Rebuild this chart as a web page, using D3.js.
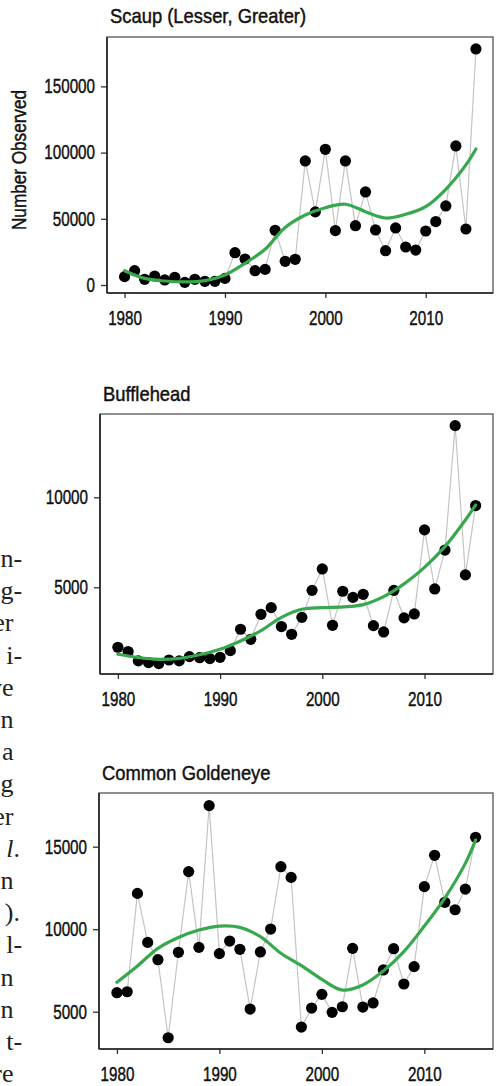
<!DOCTYPE html>
<html>
<head>
<meta charset="utf-8">
<script src="https://cdn.jsdelivr.net/npm/d3@7"></script>
<style>
  body { margin: 0; background: #fff; }
  svg { display: block; }
</style>
</head>
<body>
<div id="chart"></div>
<script>
// years shared by all three panels
const years = d3.range(1980, 2016);
const xTicks = [1980, 1990, 2000, 2010];

// Scaup (Lesser, Greater)
const scaupCounts = [6300, 10800, 4300, 6800, 3800, 5800, 2000, 4300, 2800, 2800,
  5000, 24400, 19600, 10800, 11800, 41300, 17900, 19400, 93700, 55200,
  102500, 41100, 93700, 44800, 70300, 41600, 25900, 43100, 28700, 26400,
  40800, 47900, 59700, 105000, 42300, 178300];
const scaupTrendYears = [1980, 1982, 1984, 1986, 1988, 1990, 1992, 1994, 1996, 1998, 2000, 2002, 2004, 2006, 2008, 2010, 2012, 2014, 2015];
const scaupTrend = [10800, 5000, 3000, 2300, 3300, 7600, 16400, 27000, 43500, 52900, 58400, 61000, 55400, 50600, 53400, 59200, 72300, 90700, 102700];
const scaupTicks = [0, 50000, 100000, 150000];

// Bufflehead
const buffleCounts = [1670, 1430, 910, 820, 760, 960, 910, 1150, 1090, 1040,
  1110, 1480, 2670, 2110, 3500, 3870, 2820, 2390, 3330, 4830,
  6020, 2890, 4780, 4440, 4610, 2870, 2520, 4830, 3300, 3520,
  8190, 4910, 7070, 13980, 5690, 9540];
const buffleTrendYears = scaupTrendYears;
const buffleTrend = [1280, 1100, 1000, 1050, 1250, 1560, 2020, 2590, 3330, 3780, 3870, 3910, 4040, 4480, 5190, 6110, 7260, 8740, 9570];
const buffleTicks = [5000, 10000];

// Common Goldeneye
const goldCounts = [6150, 6210, 12170, 9200, 8150, 3420, 8600, 13490, 8900, 17490,
  8520, 9280, 8780, 5160, 8620, 10010, 13790, 13140, 4070, 5220,
  6050, 4960, 5300, 8840, 5280, 5530, 7530, 8820, 6680, 7730,
  12580, 14480, 11630, 11180, 12430, 15570];
const goldTrendYears = scaupTrendYears;
const goldTrend = [6780, 7770, 8840, 9500, 9950, 10190, 10110, 9550, 8540, 7790, 6960, 6310, 6620, 7470, 8640, 10190, 11890, 13990, 15400];
const goldTicks = [5000, 10000, 15000];

// clipped lines of body text from the neighbouring column
const sideText = ["n-", "g-", "er", "i-", "ve", "n", "a", "g", "er", "l.", "n", ").", "l-", "n", "n", "t-", "re"];

const W = 497, H = 1086;
const sans = "'Liberation Sans', Arial, sans-serif";

const svg = d3.select("#chart").append("svg")
  .attr("width", W)
  .attr("height", H);

// squeeze text horizontally, the original uses a condensed face
function squeeze(sel, k) {
  sel.each(function () {
    const len = this.getComputedTextLength();
    d3.select(this).attr("textLength", len * k).attr("lengthAdjust", "spacingAndGlyphs");
  });
}

// thicken a bit, the source face is heavier than Liberation Sans
function heavy(sel) {
  sel.attr("stroke", "#111").attr("stroke-width", 0.45);
}

function drawPanel(opt) {
  const x = d3.scaleLinear().domain([1978.25, 2016.7]).range([opt.left, 493]);
  const y = d3.scaleLinear().domain(opt.domain).range([opt.bottom, opt.top]);
  const g = svg.append("g");

  g.append("text")
    .attr("x", opt.left + 3)
    .attr("y", opt.titleY)
    .attr("font-family", sans)
    .attr("font-size", 21)
    .attr("fill", "#111")
    .text(opt.title)
    .call(squeeze, 0.875)
    .call(heavy);

  g.append("rect")
    .attr("x", opt.left)
    .attr("y", opt.top)
    .attr("width", 493 - opt.left)
    .attr("height", opt.bottom - opt.top)
    .attr("fill", "#fff")
    .attr("stroke", "#555")
    .attr("stroke-width", 1.3);

  const yAxis = g.append("g")
    .attr("transform", `translate(${opt.left},0)`)
    .call(d3.axisLeft(y).tickValues(opt.ticks).tickSize(6).tickSizeOuter(0).tickPadding(6).tickFormat(d3.format("d")));
  const xAxis = g.append("g")
    .attr("transform", `translate(0,${opt.bottom})`)
    .call(d3.axisBottom(x).tickValues(xTicks).tickSize(5).tickSizeOuter(0).tickPadding(13).tickFormat(d3.format("d")));

  [yAxis, xAxis].forEach((a) => {
    a.select(".domain").remove();
    a.selectAll(".tick line").attr("stroke", "#333").attr("stroke-width", 1.3);
    a.selectAll(".tick text")
      .attr("font-family", sans)
      .attr("font-size", 20)
      .attr("fill", "#111")
      .call(squeeze, 0.76)
      .call(heavy);
  });

  // axis lines drawn darker on the left and bottom
  g.append("line")
    .attr("x1", opt.left).attr("x2", opt.left)
    .attr("y1", opt.top).attr("y2", opt.bottom)
    .attr("stroke", "#222").attr("stroke-width", 1.6);
  g.append("line")
    .attr("x1", opt.left).attr("x2", 493)
    .attr("y1", opt.bottom).attr("y2", opt.bottom)
    .attr("stroke", "#222").attr("stroke-width", 1.6);

  const data = years.map((yr, i) => ({ year: yr, value: opt.counts[i] }));
  const trend = opt.trendYears.map((yr, i) => ({ year: yr, value: opt.trend[i] }));

  g.append("path")
    .datum(data)
    .attr("fill", "none")
    .attr("stroke", "#c4c4c4")
    .attr("stroke-width", 1.2)
    .attr("d", d3.line().x((d) => x(d.year)).y((d) => y(d.value)));

  g.selectAll("circle")
    .data(data)
    .enter()
    .append("circle")
    .attr("r", 5.6)
    .attr("cx", (d) => x(d.year))
    .attr("cy", (d) => y(d.value))
    .attr("fill", "#000");

  g.append("path")
    .datum(trend)
    .attr("fill", "none")
    .attr("stroke", "#37a84e")
    .attr("stroke-width", 3.2)
    .attr("stroke-linecap", "round")
    .attr("d", d3.line().curve(d3.curveCatmullRom).x((d) => x(d.year)).y((d) => y(d.value)));
}

drawPanel({
  title: "Scaup (Lesser, Greater)", titleY: 23,
  left: 107, top: 37, bottom: 293, domain: [-6040, 187300],
  counts: scaupCounts, trendYears: scaupTrendYears, trend: scaupTrend, ticks: scaupTicks
});
drawPanel({
  title: "Bufflehead", titleY: 401,
  left: 100, top: 414, bottom: 674, domain: [183, 14628],
  counts: buffleCounts, trendYears: buffleTrendYears, trend: buffleTrend, ticks: buffleTicks
});
drawPanel({
  title: "Common Goldeneye", titleY: 780,
  left: 99, top: 793, bottom: 1049, domain: [2739, 18255],
  counts: goldCounts, trendYears: goldTrendYears, trend: goldTrend, ticks: goldTicks
});

// y axis title
svg.append("text")
  .attr("transform", "translate(26,160) rotate(-90)")
  .attr("text-anchor", "middle")
  .attr("font-family", sans)
  .attr("font-size", 20)
  .attr("fill", "#111")
  .text("Number Observed")
  .attr("textLength", 140)
  .attr("lengthAdjust", "spacingAndGlyphs")
  .call(heavy);

// the cut-off text column on the left edge
const side = svg.append("g")
  .attr("font-family", "'Liberation Serif', 'Times New Roman', serif")
  .attr("font-size", 26)
  .attr("fill", "#222");
sideText.forEach((s, i) => {
  const yy = 567 + i * 32.2;
  const m = s.match(/^(.*?)([-.]?)$/);
  side.append("text")
    .attr("x", 13.5)
    .attr("y", yy)
    .attr("text-anchor", "end")
    .attr("font-style", s === "l." ? "italic" : null)
    .text(m[1]);
  if (m[2]) {
    side.append("text")
      .attr("x", 13.5)
      .attr("y", yy)
      .text(m[2]);
  }
});
</script>
</body>
</html>
